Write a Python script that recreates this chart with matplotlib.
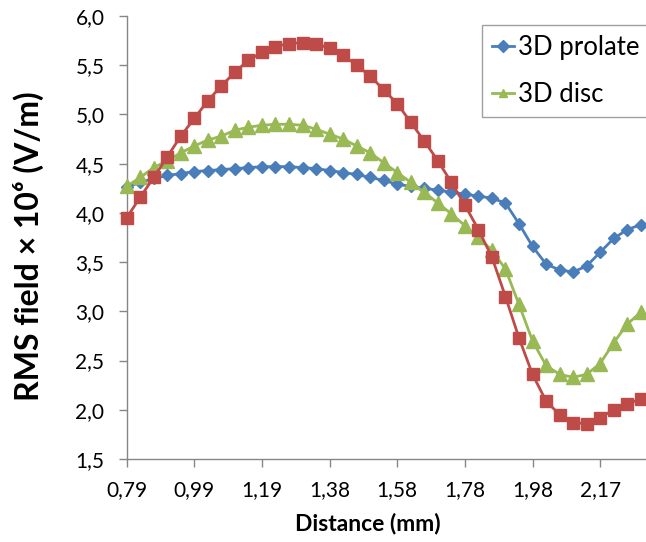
import matplotlib
matplotlib.use("Agg")
import matplotlib.pyplot as plt
import numpy as np
from matplotlib.ticker import FuncFormatter

# Category tick labels (every 5th category shown)
tick_labels = ["0,79", "0,99", "1,19", "1,38", "1,58", "1,78", "1,98", "2,17"]
tick_step = 5

# Series values (RMS field x 1e6 V/m)
prolate = [4.26, 4.31, 4.35, 4.38, 4.40, 4.42, 4.43, 4.44, 4.45, 4.46,
           4.47, 4.47, 4.47, 4.46, 4.45, 4.43, 4.41, 4.39, 4.36, 4.33,
           4.29, 4.27, 4.25, 4.23, 4.21, 4.19, 4.17, 4.15, 4.10, 3.89,
           3.66, 3.48, 3.42, 3.40, 3.46, 3.60, 3.74, 3.83, 3.88]
disc = [4.27, 4.36, 4.46, 4.53, 4.61, 4.68, 4.74, 4.78, 4.84, 4.87,
        4.89, 4.90, 4.90, 4.89, 4.85, 4.80, 4.75, 4.68, 4.61, 4.51,
        4.41, 4.31, 4.21, 4.10, 3.99, 3.87, 3.75, 3.62, 3.43, 3.07,
        2.70, 2.45, 2.36, 2.33, 2.36, 2.47, 2.68, 2.87, 2.99]
third = [3.95, 4.16, 4.36, 4.57, 4.78, 4.96, 5.14, 5.29, 5.43, 5.55,
         5.63, 5.69, 5.72, 5.73, 5.72, 5.67, 5.60, 5.50, 5.39, 5.25,
         5.11, 4.92, 4.73, 4.53, 4.31, 4.08, 3.83, 3.55, 3.15, 2.73,
         2.36, 2.09, 1.95, 1.87, 1.86, 1.92, 2.00, 2.06, 2.11]

W, H = 646, 542
fig = plt.figure(figsize=(W / 100, H / 100), dpi=100)
left, right, top, bottom = 126.7, 646, 16, 459
ax = fig.add_axes([left / W, 1 - bottom / H, (right - left) / W, (bottom - top) / H])

FONT = ["Lato", "DejaVu Sans"]
blue, green, red = "#4A7EBB", "#98B954", "#BE4B48"

x = np.arange(len(prolate))
ax.plot(x, prolate, color=blue, marker="D", ms=6.5, lw=2.0, mec=blue, mfc=blue,
        clip_on=False, zorder=3, label="3D prolate")
ax.plot(x, disc, color=green, marker="^", ms=10, lw=2.0, mec=green, mfc=green,
        clip_on=False, zorder=4, label="3D disc")
ax.plot(x, third, color=red, marker="s", ms=8.5, lw=2.0, mec=red, mfc=red,
        clip_on=False, zorder=5)

ax.set_xlim(0, 38.39)
ax.set_ylim(1.5, 6.0)
ax.set_yticks(np.arange(1.5, 6.01, 0.5))
ax.yaxis.set_major_formatter(FuncFormatter(lambda v, p: f"{v:.1f}".replace(".", ",")))
ax.set_xticks(np.arange(len(tick_labels)) * tick_step)
ax.set_xticklabels(tick_labels)

for s in ["top", "right"]:
    ax.spines[s].set_visible(False)
for s in ["left", "bottom"]:
    ax.spines[s].set_color("#868686")
    ax.spines[s].set_linewidth(1.0)
ax.tick_params(axis="both", direction="out", length=6, width=1.0, color="#868686",
               labelsize=15, labelcolor="black")
ax.tick_params(axis="y", pad=10)
ax.tick_params(axis="x", pad=9)
for lab in ax.get_xticklabels() + ax.get_yticklabels():
    lab.set_family(FONT)

fig.text(368 / W, 1 - 524 / H, "Distance (mm)", ha="center", va="center",
         fontsize=16.5, fontweight="bold", family=FONT)
fig.text(28 / W, 1 - 246 / H, "RMS field \u00d7 10\u2076 (V/m)", ha="center", va="center",
         rotation=90, fontsize=23, fontweight="bold", family=FONT)

leg = ax.legend(loc="upper left",
                bbox_to_anchor=((482 - left) / (right - left), 1 - (25 - top) / (bottom - top)),
                frameon=True, fancybox=False, prop={"family": FONT, "size": 18.5},
                handlelength=0.86, handletextpad=0.15, borderpad=0.4, labelspacing=0.85,
                borderaxespad=0)
leg.get_frame().set_edgecolor("#888888")
leg.get_frame().set_linewidth(1.0)
for h in leg.legend_handles:
    h.set_markersize(6)

fig.savefig("out.png", dpi=100)
